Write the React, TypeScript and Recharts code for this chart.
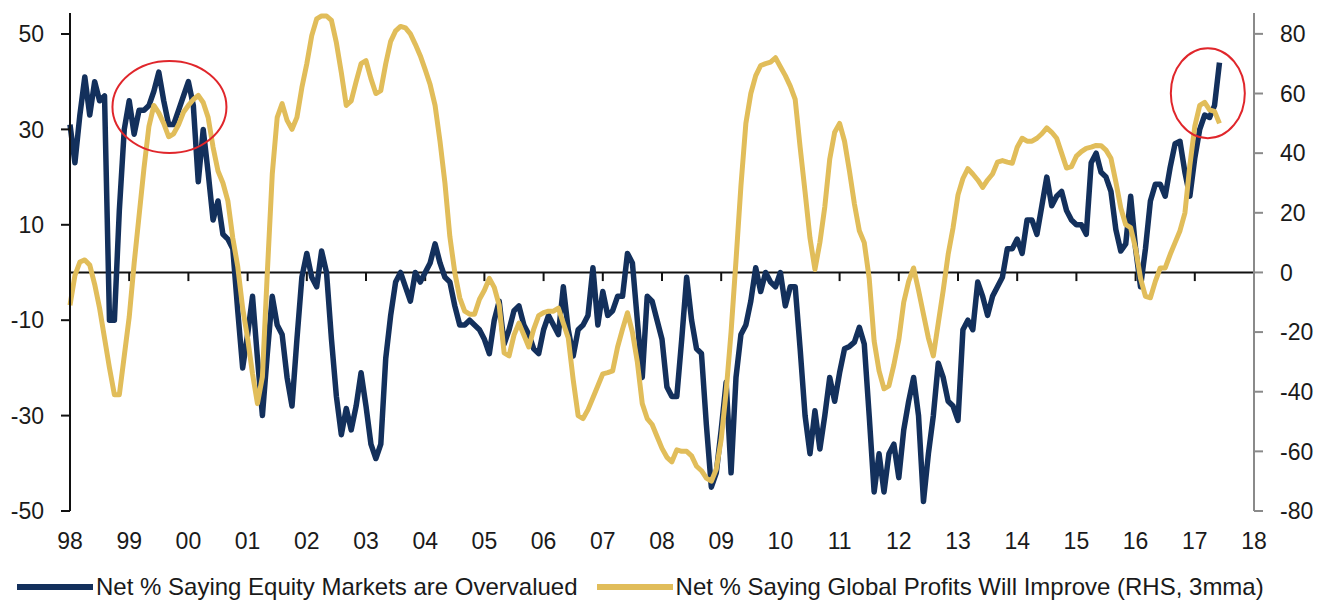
import React from "react";
import { LineChart, Line, XAxis, YAxis, ReferenceLine, ReferenceDot, Legend } from "recharts";

const FONT = '"Liberation Sans", Arial, sans-serif';
const NAVY = "#13305c";
const GOLD = "#e1bd5a";
const RED = "#e0262b";

const START_YEAR = 1998;
const yearLabels = ["98", "99", "00", "01", "02", "03", "04", "05", "06", "07", "08", "09", "10", "11", "12", "13", "14", "15", "16", "17", "18"];
const leftTicks = [-50, -30, -10, 10, 30, 50];
const rightTicks = [-80, -60, -40, -20, 0, 20, 40, 60, 80];

// Net % saying equity markets are overvalued (LHS), monthly from Jan 1998
const equityOvervalued = [
  31, 23, 33, 41, 33, 40, 36, 37, -10, -10, 13, 30, // 1998
  36, 29, 34, 34, 35, 38, 42, 36, 31, 31, 34, 37, // 1999
  40, 35, 19, 30, 21, 11, 15, 8, 7, 5, -8, -20, // 2000
  -13, -5, -18, -30, -17, -5, -11, -13, -22, -28, -14, -1, // 2001
  4, -1, -3, 4.5, 0, -14, -26, -34, -28.5, -33, -28, -21, // 2002
  -28, -36, -39, -36, -18, -9, -2, 0, -3, -6, 0, -2, // 2003
  0, 2, 6, 2, -1, -2, -7, -11, -11, -10, -11, -12, // 2004
  -14, -17, -10, -6, -15, -12, -8, -7, -11, -13, -16, -17, // 2005
  -12, -9, -11, -13, -3, -12, -17.5, -12, -11, -9, 1, -11, // 2006
  -4, -9, -8, -5, -5, 4, 2, -10, -22, -5, -6, -10, // 2007
  -14, -24, -26, -26, -14, -1, -10, -16, -17, -32, -45, -42, // 2008
  -33, -23, -42, -22, -13, -11, -6, 1, -4, 0, -2, -3, // 2009
  0, -7, -3, -3, -16, -30, -38, -29, -37, -30, -22, -27, // 2010
  -21, -16, -15.5, -14.6, -11.5, -15, -30, -46, -38, -46, -38, -36, // 2011
  -43, -33, -27, -22, -30, -48, -38, -30, -19, -22, -27, -28, // 2012
  -31, -12, -10, -12, -2, -5, -9, -5, -3, -1, 5, 5, // 2013
  7, 4, 11, 11, 8, 14, 20, 14, 16, 17, 13, 11, // 2014
  10, 10, 8, 23, 25, 21, 20, 17, 9, 4.5, 6, 16, // 2015
  5, -3, 5, 15, 18.5, 18.5, 16, 22, 27, 27.5, 21, 16, // 2016
  24, 30, 33, 32.5, 35, 44, // 2017
];

// Net % saying global profits will improve (RHS, 3mma), monthly from Jan 1998
const globalProfits = [
  -11, -1, 3.5, 4.2, 2.5, -4, -12, -22, -32, -41, -41, -28, // 1998
  -15, 3, 19, 35, 49, 56, 53.5, 50, 45.5, 46.5, 49.5, 53.7, // 1999
  56, 58, 59.4, 57, 52, 42, 34, 30, 24, 11.5, 2, -12, // 2000
  -22, -34, -44, -35, 0, 33, 52, 56.6, 51, 48, 52, 62, // 2001
  70, 79.4, 85, 86, 86, 84.5, 77, 67, 56, 57.5, 64, 70, // 2002
  71, 65, 60, 61, 70, 77.5, 81, 82.5, 82, 80, 76.5, 72.7, // 2003
  68, 63, 56, 44, 30, 12, 0, -8.5, -13, -14, -14, -9, // 2004
  -6, -2, -5, -11, -27, -28, -21, -17, -21, -25, -19, -14.5, // 2005
  -13.5, -13, -13, -12, -17, -22, -36, -48, -49, -46, -42, -38, // 2006
  -34, -33.6, -33, -25, -19, -13.5, -20, -30, -44, -49, -51, -55, // 2007
  -59, -62, -63.5, -59.5, -60, -60, -61.5, -65, -66.5, -69, -70, -66, // 2008
  -56, -40, -20, 4, 29, 50, 60, 66, 69.4, 70, 70.5, 72, // 2009
  69, 66, 62.5, 58, 42, 27, 11.5, 1, 10, 22, 38, 47, // 2010
  50, 44, 34, 23, 14, 10, -2, -23, -33, -39, -38, -31, // 2011
  -22.6, -10, -3, 1.5, -6, -14, -22, -28, -17, -6, 6, 15, // 2012
  26, 31.5, 34.8, 33, 31, 28.5, 31, 33, 37, 37.5, 37, 36.6, // 2013
  42, 45, 44, 44, 45, 46.5, 48.5, 47, 45, 40, 35, 35.5, // 2014
  39, 40.5, 41.6, 42, 42.6, 42.5, 41, 38.3, 30.3, 21.6, 16, 15, // 2015
  8, -2, -8, -8.5, -3, 1.5, 1.5, 6, 10, 14, 20, 36, // 2016
  49, 56, 57, 54.5, 54, 50, // 2017
];

// circled episodes (year, LHS value)
const highlights = [
  { x: 1999.68, y: 34.7 },
  { x: 2017.22, y: 37.6 },
];
const highlightSize = [
  { rx: 57, ry: 46 },
  { rx: 37, ry: 45 },
];

const toSeries = (values: number[]) =>
  values.map((v, i) => ({ t: START_YEAR + i / 12, v }));

const equityData = toSeries(equityOvervalued);
const profitData = toSeries(globalProfits);
const yearTicks = yearLabels.map((_, i) => START_YEAR + i);

const tickStyle = { fontFamily: FONT, fontSize: 23, fill: "#1a1a1a" };

const LegendContent = () => (
  <div
    style={{
      height: 50,
      paddingTop: 23,
      paddingLeft: 9,
      boxSizing: "border-box",
      display: "flex",
      alignItems: "center",
      fontFamily: FONT,
      fontSize: 24,
      lineHeight: "24px",
      color: "#1a1a1a",
      whiteSpace: "nowrap",
    }}
  >
    <span style={{ display: "inline-block", width: 76, height: 6, background: NAVY, marginRight: 3 }} />
    <span>Net % Saying Equity Markets are Overvalued</span>
    <span style={{ display: "inline-block", width: 76, height: 6, background: GOLD, marginLeft: 19, marginRight: 3 }} />
    <span>Net % Saying Global Profits Will Improve (RHS, 3mma)</span>
  </div>
);

export default function App() {
  return (
    <LineChart width={1312} height={592} margin={{ top: 5, right: 0, bottom: 0, left: 0 }}>
      <XAxis
        dataKey="t"
        type="number"
        domain={[1998, 2018]}
        ticks={yearTicks}
        tickFormatter={(t: number) => yearLabels[Math.round(t) - START_YEAR]}
        axisLine={false}
        tickLine={false}
        tickSize={9}
        tickMargin={13}
        height={39}
        tick={tickStyle}
        interval={0}
        allowDecimals
      />
      <YAxis
        yAxisId="left"
        orientation="left"
        type="number"
        domain={[-50, 54.4]}
        ticks={leftTicks}
        width={62}
        axisLine={{ stroke: "#111", strokeWidth: 2 }}
        tickLine={{ stroke: "#111", strokeWidth: 2 }}
        tickSize={9}
        tickMargin={17}
        tick={tickStyle}
        interval={0}
      />
      <YAxis
        yAxisId="right"
        orientation="right"
        type="number"
        domain={[-80, 87]}
        ticks={rightTicks}
        width={66}
        axisLine={{ stroke: "#8a8a8a", strokeWidth: 2 }}
        tickLine={{ stroke: "#8a8a8a", strokeWidth: 2 }}
        tickSize={9}
        tickMargin={17}
        tick={tickStyle}
        interval={0}
      />
      <ReferenceLine yAxisId="left" y={0} stroke="#111" strokeWidth={2} />
      {yearTicks.map((yr) => (
        <ReferenceLine
          key={yr}
          yAxisId="left"
          segment={[
            { x: yr, y: 0 },
            { x: yr, y: -1.8 },
          ]}
          stroke="#111"
          strokeWidth={2}
        />
      ))}
      <Line
        yAxisId="left"
        data={equityData}
        dataKey="v"
        type="linear"
        stroke={NAVY}
        strokeWidth={5.5}
        strokeLinejoin="round"
        dot={false}
        activeDot={false}
        isAnimationActive={false}
        name="Net % Saying Equity Markets are Overvalued"
      />
      <Line
        yAxisId="right"
        data={profitData}
        dataKey="v"
        type="linear"
        stroke={GOLD}
        strokeWidth={5}
        strokeLinejoin="round"
        dot={false}
        activeDot={false}
        isAnimationActive={false}
        name="Net % Saying Global Profits Will Improve (RHS, 3mma)"
      />
      {highlights.map((h, i) => (
        <ReferenceDot
          key={i}
          yAxisId="left"
          x={h.x}
          y={h.y}
          r={1}
          shape={(p: any) => (
            <ellipse
              cx={p.cx}
              cy={p.cy}
              rx={highlightSize[i].rx}
              ry={highlightSize[i].ry}
              fill="none"
              stroke={RED}
              strokeWidth={2}
            />
          )}
        />
      ))}
      <Legend
        verticalAlign="bottom"
        height={50}
        content={() => <LegendContent />}
        wrapperStyle={{ left: 0, width: 1312 }}
      />
    </LineChart>
  );
}
